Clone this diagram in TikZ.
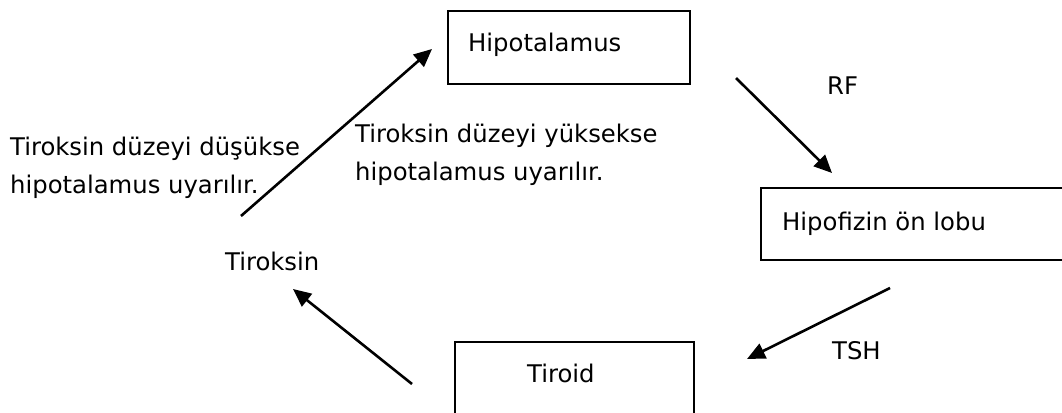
\documentclass[tikz,border=0pt]{standalone}
\usepackage{fontspec}
\setmainfont{DejaVu Sans}
\usetikzlibrary{arrows.meta}
\begin{document}
\begin{tikzpicture}[x=1pt,y=-1pt,
  box/.style={draw,line width=2.3pt,anchor=north west,inner sep=0pt},
  lbl/.style={anchor=base west,inner sep=0pt,font=\fontsize{24.3}{38}\selectfont},
  arr/.style={line width=2.6pt,-{Triangle[length=18pt,width=16pt]}}]
\useasboundingbox (0,0) rectangle (1062,412);
\clip (0,0) rectangle (1062,412);
% boxes
\node[box,minimum width=242pt,minimum height=73pt] (hyp) at (447,10) {};
\node[box,minimum width=320pt,minimum height=72pt] (hof) at (760,187) {};
\node[box,minimum width=239pt,minimum height=90pt] (tir) at (454,341) {};
% box texts
\node[lbl] (thyp) at (468,52) {Hipotalamus};
\node[lbl] (thof) at (782,230) {Hipofizin ön lobu};
\node[lbl] (ttir) at (527,382) {Tiroid};
% labels
\node[lbl] (rf) at (827,94) {RF};
\node[lbl] (tsh) at (832,359) {TSH};
\node[lbl] (trk) at (225,270) {Tiroksin};
\node[lbl] (low1) at (10,155) {Tiroksin düzeyi düşükse};
\node[lbl] (low2) at (10,193) {hipotalamus uyarılır.};
\node[lbl] (high1) at (355,142) {Tiroksin düzeyi yüksekse};
\node[lbl] (high2) at (355,180) {hipotalamus uyarılır.};
% arrow end points
\coordinate (a1s) at (241,216); \coordinate (a1e) at (432,49);
\coordinate (a2s) at (736,78);  \coordinate (a2e) at (832,173);
\coordinate (a3s) at (890,288); \coordinate (a3e) at (747,359);
\coordinate (a4s) at (412,384); \coordinate (a4e) at (293,289);
\draw[arr] (a1s) -- (a1e);
\draw[arr] (a2s) -- (a2e);
\draw[arr] (a3s) -- (a3e);
\draw[arr] (a4s) -- (a4e);
\end{tikzpicture}
\end{document}
